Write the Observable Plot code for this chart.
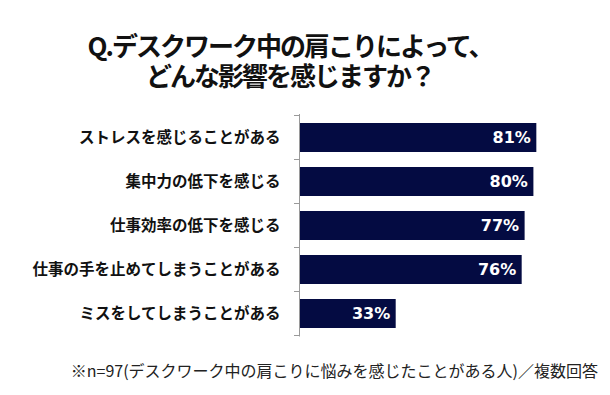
<!DOCTYPE html>
<html>
<head>
<meta charset="utf-8">
<script src="https://cdn.jsdelivr.net/npm/d3@7"></script>
<script src="https://cdn.jsdelivr.net/npm/@observablehq/plot@0.6"></script>
<style>
  html, body { margin: 0; padding: 0; background: #fff; }
  body { width: 610px; height: 395px; overflow: hidden; font-family: "Noto Sans CJK JP", sans-serif; }
  #title { box-sizing: border-box; height: 100px; padding-top: 30px; padding-right: 30px; text-align: center;
           font-size: 26px; letter-spacing: -2px; line-height: 30px; font-weight: bold; color: #111; }
  #chart svg { display: block; }
  #caption { box-sizing: border-box; padding-top: 12px; padding-right: 12px; text-align: right;
             font-size: 16px; line-height: 24px; color: #222; white-space: nowrap; }
</style>
</head>
<body>
<div id="title">Q.デスクワーク中の肩こりによって、<br>どんな影響を感じますか？</div>
<div id="chart"></div>
<div id="caption">※n=97(デスクワーク中の肩こりに悩みを感じたことがある人)／複数回答</div>
<script>
const categories = [
  "ストレスを感じることがある",
  "集中力の低下を感じる",
  "仕事効率の低下を感じる",
  "仕事の手を止めてしまうことがある",
  "ミスをしてしまうことがある"
];
const values = [81, 80, 77, 76, 33];
const valueLabels = ["81%", "80%", "77%", "76%", "33%"];

const data = categories.map((c, i) => ({category: c, value: values[i], label: valueLabels[i]}));

// boundary ticks between categories, computed from the band scale
function boundaryTicks(index, scales, values, dimensions, context) {
  const y = scales.y, x = scales.x;
  const dom = y.domain();
  const bw = typeof y.bandwidth === "function" ? y.bandwidth() : 0;
  const step = typeof y.step === "function" ? y.step() : (y(dom[1]) - y(dom[0]));
  const pad = (step - bw) / 2;
  const x0 = x(0);
  const g = d3.create("svg:g");
  const ys = dom.map(d => y(d) - pad);
  ys.push(y(dom[dom.length - 1]) + bw + pad);
  for (const yy of ys) {
    g.append("line").attr("x1", x0 - 5).attr("x2", x0).attr("y1", yy).attr("y2", yy)
      .attr("stroke", "#9a9a9a").attr("stroke-width", 1);
  }
  return g.node();
}

const chart = Plot.plot({
  width: 610,
  height: 246,
  marginLeft: 299,
  marginRight: 18,
  marginTop: 14,
  marginBottom: 9.5,
  style: {fontFamily: "'Noto Sans CJK JP', sans-serif", background: "#fff"},
  x: {domain: [0, 100], axis: null},
  y: {domain: categories, paddingInner: 0.35, paddingOuter: 0.175, label: null},
  marks: [
    Plot.barX(data, {x: "value", y: "category", fill: "#040b42"}),
    Plot.ruleX([0], {stroke: "#9a9a9a", strokeWidth: 1}),
    boundaryTicks,
    Plot.axisY({tickSize: 0, tickPadding: 19, fontSize: 15.5, fontWeight: "bold", fill: "#111", label: null}),
    Plot.text(data, {x: "value", y: "category", text: "label", textAnchor: "end", dx: -6,
      fill: "white", fontSize: 16, fontWeight: "bold", fontFamily: "'DejaVu Sans', sans-serif"})
  ]
});
document.getElementById("chart").appendChild(chart);
</script>
</body>
</html>
